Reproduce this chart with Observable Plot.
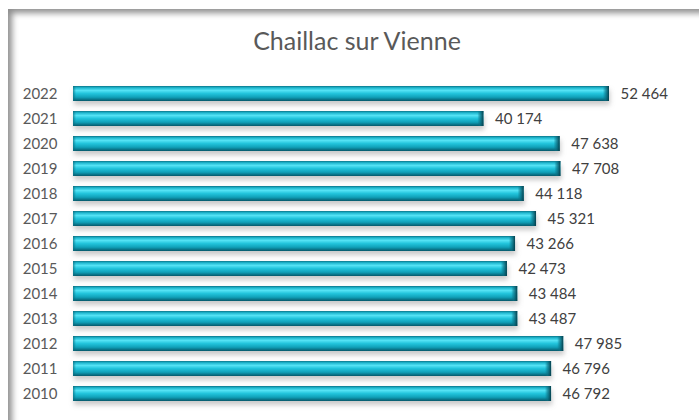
<!DOCTYPE html>
<html>
<head>
<meta charset="utf-8">
<script src="https://cdn.jsdelivr.net/npm/d3@7"></script>
<script src="https://cdn.jsdelivr.net/npm/@observablehq/plot@0.6"></script>
<style>
  html, body { margin: 0; padding: 0; background: #fff; }
  #wrap { position: relative; width: 699px; height: 420px; overflow: hidden; background: #fff; font-family: Lato, "Noto Sans", sans-serif; }
  #frame { position: absolute; left: 8px; top: 9px; width: 800px; height: 500px; box-shadow: inset 4px 4px 6px rgba(0,0,0,0.45); }
  #title { position: absolute; left: 0; width: 714px; top: 28px; text-align: center; font-size: 25px; line-height: 1; color: #595959; }
  #chart { position: absolute; left: 0; top: 68px; }
</style>
</head>
<body>
<div id="wrap">
  <div id="frame"></div>
  <div id="title">Chaillac sur Vienne</div>
  <div id="chart"></div>
</div>
<script>
const years = ["2022","2021","2020","2019","2018","2017","2016","2015","2014","2013","2012","2011","2010"];
const values = [52464, 40174, 47638, 47708, 44118, 45321, 43266, 42473, 43484, 43487, 47985, 46796, 46792];

const data = years.map((y, i) => ({year: y, value: values[i]}));
const fmt = v => d3.format(",")(v).replace(/,/g, " ");
const bevel = 600;

const plot = Plot.plot({
  width: 699,
  height: 352,
  marginTop: 6,
  marginBottom: 8,
  marginLeft: 73,
  marginRight: 90,
  style: { fontFamily: "Lato, 'Noto Sans', sans-serif", fontSize: "15px", color: "#595959", background: "transparent" },
  x: { domain: [0, 52464], axis: null },
  y: { domain: years, padding: 0.4, tickSize: 0, tickPadding: 16, label: null },
  marks: [
    Plot.barX(data, { y: "year", x: "value", fill: "#8a8a8a", fillOpacity: 0.45, dy: 4, dx: 1 }),
    Plot.barX(data, { y: "year", x: "value", fill: "url(#cyl)" }),
    Plot.barX(data, { y: "year", x1: d => d.value - bevel, x2: "value", fill: "url(#bevelR)" }),
    Plot.barX(data, { y: "year", x1: 0, x2: 300, fill: "url(#bevelL)" }),
    Plot.text(data, { y: "year", x: "value", text: d => fmt(d.value), dx: 11, textAnchor: "start", fill: "#404040", fontSize: 15 })
  ]
});

const svg = d3.select(plot);
const defs = svg.insert("defs", ":first-child");
const g = defs.append("linearGradient").attr("id", "cyl").attr("x1", 0).attr("y1", 0).attr("x2", 0).attr("y2", 1);
[[0, "#0a7487"], [0.12, "#1fb7cf"], [0.3, "#54e2f4"], [0.5, "#22c4dc"], [0.75, "#10a0b8"], [1, "#06586a"]]
  .forEach(([o, c]) => g.append("stop").attr("offset", o).attr("stop-color", c));
const br = defs.append("linearGradient").attr("id", "bevelR").attr("x1", 0).attr("y1", 0).attr("x2", 1).attr("y2", 0);
[[0, "#0c6f82", 0], [0.4, "#0c6f82", 0.6], [1, "#053f4c", 1]]
  .forEach(([o, c, a]) => br.append("stop").attr("offset", o).attr("stop-color", c).attr("stop-opacity", a));
const bl = defs.append("linearGradient").attr("id", "bevelL").attr("x1", 0).attr("y1", 0).attr("x2", 1).attr("y2", 0);
[[0, "#0b6e80", 0.7], [1, "#0b6e80", 0]]
  .forEach(([o, c, a]) => bl.append("stop").attr("offset", o).attr("stop-color", c).attr("stop-opacity", a));
const f = defs.append("filter").attr("id", "blur").attr("x", "-5%").attr("y", "-50%").attr("width", "110%").attr("height", "200%");
f.append("feGaussianBlur").attr("stdDeviation", 2.5);
svg.select("g[aria-label='bar']").attr("filter", "url(#blur)");

document.getElementById("chart").appendChild(plot);
</script>
</body>
</html>
